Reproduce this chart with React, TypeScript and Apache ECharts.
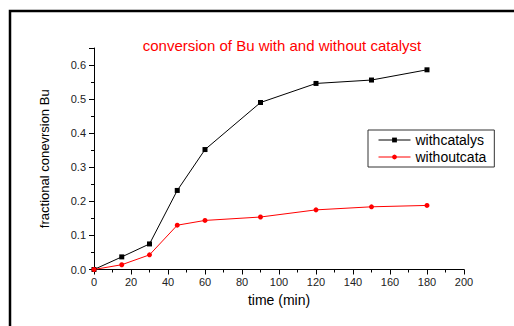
import React, { useEffect, useRef } from "react";
import * as echarts from "echarts";

const timeMin = [0, 15, 30, 45, 60, 90, 120, 150, 180];
const withCatalyst = [0.0, 0.037, 0.075, 0.232, 0.352, 0.49, 0.546, 0.556, 0.586];
const withoutCatalyst = [0.0, 0.014, 0.043, 0.13, 0.144, 0.154, 0.175, 0.184, 0.188];
const seriesNames = ["withcatalys", "withoutcata"];
const titleText = "conversion of Bu with and without catalyst";
const xName = "time (min)";
const yName = "fractional conevrsion Bu";

const FONT = "'Liberation Sans', Arial, sans-serif";

export default function App() {
  const ref = useRef<HTMLDivElement>(null);
  useEffect(() => {
    if (!ref.current) return;
    const chart = echarts.init(ref.current, undefined, { renderer: "svg" });
    const pair = (ys: number[]) => timeMin.map((t, i) => [t, ys[i]]);
    chart.setOption({
      animation: false,
      backgroundColor: "#ffffff",
      textStyle: { fontFamily: FONT },
      title: {
        text: titleText,
        left: 277,
        top: 33,
        textAlign: "center",
        textStyle: { color: "#ff0000", fontSize: 15, fontWeight: "normal", fontFamily: FONT },
      },
      graphic: [
        {
          type: "rect",
          shape: { x: 10, y: 11, width: 600, height: 400 },
          style: { fill: "none", stroke: "#000", lineWidth: 2.5 },
          silent: true,
        },
      ],
      legend: {
        orient: "vertical",
        left: 368,
        top: 130,
        padding: [2, 8, 2, 10],
        itemGap: 1,
        itemWidth: 32,
        itemHeight: 6,
        backgroundColor: "#fff",
        borderColor: "#333",
        borderWidth: 1,
        borderRadius: 0,
        lineStyle: { width: 1 },
        textStyle: { fontSize: 14, color: "#000", fontFamily: FONT, lineHeight: 16 },
        data: seriesNames,
      },
      grid: { left: 94, right: 50, top: 48, bottom: 56.5, containLabel: false },
      xAxis: {
        type: "value",
        min: 0,
        max: 200,
        interval: 20,
        name: xName,
        nameLocation: "middle",
        nameGap: 23,
        nameTextStyle: { fontSize: 14, color: "#000", fontFamily: FONT },
        axisLine: { lineStyle: { color: "#000", width: 1 } },
        axisTick: { show: true, length: 5, lineStyle: { color: "#000" } },
        minorTick: { show: true, splitNumber: 2, length: 3, lineStyle: { color: "#000" } },
        axisLabel: { fontSize: 11, color: "#222", margin: 7, fontFamily: FONT },
        splitLine: { show: false },
      },
      yAxis: {
        type: "value",
        min: 0,
        max: 0.65,
        interval: 0.1,
        name: yName,
        nameLocation: "middle",
        nameGap: 43,
        nameTextStyle: { fontSize: 13, color: "#000", fontFamily: FONT },
        axisLine: { show: true, lineStyle: { color: "#000", width: 1 } },
        axisTick: { show: true, length: 5, lineStyle: { color: "#000" } },
        minorTick: { show: true, splitNumber: 2, length: 3, lineStyle: { color: "#000" } },
        axisLabel: {
          fontSize: 11,
          color: "#222",
          margin: 8,
          fontFamily: FONT,
          formatter: (v: number) => (v > 0.61 ? "" : v.toFixed(1)),
        },
        splitLine: { show: false },
      },
      series: [
        {
          name: seriesNames[0],
          type: "line",
          data: pair(withCatalyst),
          symbol: "rect",
          symbolSize: 5,
          lineStyle: { color: "#000", width: 1 },
          itemStyle: { color: "#000" },
        },
        {
          name: seriesNames[1],
          type: "line",
          data: pair(withoutCatalyst),
          symbol: "circle",
          symbolSize: 5,
          lineStyle: { color: "#ff0000", width: 1 },
          itemStyle: { color: "#ff0000" },
        },
      ],
    });
    return () => chart.dispose();
  }, []);
  return (
    <div
      ref={ref}
      style={{ position: "absolute", left: 0, top: 0, width: 514, height: 326 }}
    />
  );
}
